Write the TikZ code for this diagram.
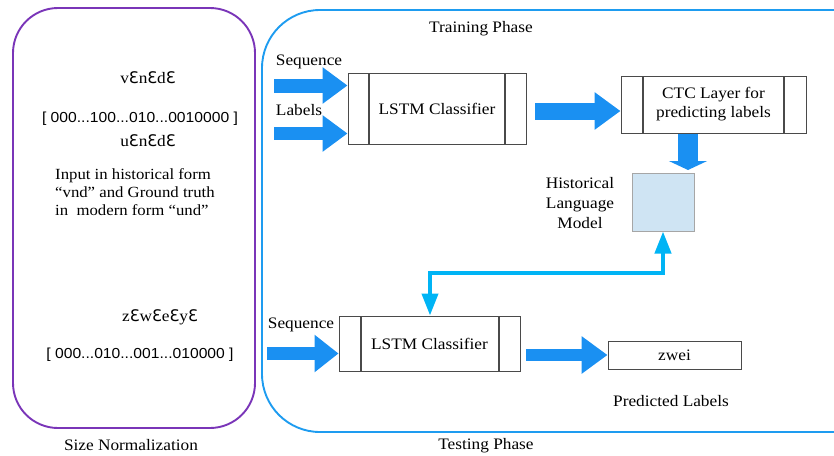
\documentclass[tikz,border=0pt]{standalone}
\usepackage{fontspec}
\setmainfont{Liberation Serif}[FakeStretch=1.08]
\newfontfamily\bsans{Liberation Sans}[FakeStretch=1.08]
\newfontfamily\epsfont{DejaVu Sans}
\newcommand{\Eps}{{\epsfont Ɛ}}
\usetikzlibrary{arrows.meta}
\definecolor{purp}{HTML}{7A35B8}
\definecolor{frameblue}{HTML}{1E9CF0}
\definecolor{arrowblue}{HTML}{1A90F2}
\definecolor{cyanconn}{HTML}{00B4F5}
\definecolor{lmfill}{HTML}{CFE4F3}
\definecolor{boxline}{HTML}{4A4A4A}
\tikzset{
  txt/.style={inner sep=0pt, font=\fontsize{16}{19}\selectfont},
  sanstxt/.style={inner sep=0pt, font=\bsans\fontsize{14.5}{17}\selectfont},
  fatarrow/.style n args={3}{draw=arrowblue, line width=#1, line cap=butt,
     -{Triangle[length=#3,width=#2]}, arrowblue},
  barbox/.style n args={2}{draw=boxline, line width=1pt, rectangle, inner sep=0pt,
     path picture={
       \draw[boxline, line width=1.1pt]
         ([xshift=#1]path picture bounding box.north west) -- ([xshift=#1]path picture bounding box.south west)
         ([xshift=-#2]path picture bounding box.north east) -- ([xshift=-#2]path picture bounding box.south east);
     }},
  plainbox/.style={draw=boxline, line width=1pt, rectangle, inner sep=0pt},
  conn/.style={draw=cyanconn, line width=4pt,
     {Triangle[length=22pt,width=16pt]}-{Triangle[length=22pt,width=16pt]}},
}
\begin{document}
\begin{tikzpicture}[x=1pt, y=-1pt]
\clip (0,0) rectangle (834,455);
\useasboundingbox (0,0) rectangle (834,455);

% frames
\draw[purp, line width=1.9pt, rounded corners=45pt] (13,8) rectangle (255,428);
\draw[frameblue, line width=1.9pt, rounded corners=58pt] (262,10) rectangle (900,432);

% left texts
\node[txt] (v1) at (148,78) {v\Eps n\Eps d\Eps};
\node[sanstxt] (b1) at (140,119) {[ 000...100...010...0010000 ]};
\node[txt] (u1) at (148,141) {u\Eps n\Eps d\Eps};
\node[txt, anchor=west, align=left, font=\fontsize{15.5}{18}\selectfont] (desc) at (55,192)
  {Input in historical form\\“vnd” and Ground truth\\in\ \ modern form “und”};
\node[txt] (z1) at (160,317) {z\Eps w\Eps e\Eps y\Eps};
\node[sanstxt] (b2) at (140,355) {[ 000...010...001...010000 ]};
\node[txt] (sizen) at (131,445) {Size Normalization};

% titles
\node[txt] (train) at (481,29) {Training Phase};
\node[txt] (test) at (486,446) {Testing Phase};

% training boxes
\node[barbox={21pt}{21pt}, minimum width=178pt, minimum height=71pt, txt] (lstm1) at (437,108.5) {LSTM Classifier};
\node[barbox={22pt}{22pt}, minimum width=185pt, minimum height=57pt, txt, align=center] (ctc) at (713.5,104.5) {CTC Layer for\\predicting labels};
\node[draw=gray!70, fill=lmfill, line width=1pt, rectangle, minimum width=62pt, minimum height=58pt, inner sep=0pt] (lm) at (663,202) {};
\node[txt, align=center, font=\fontsize{16}{20}\selectfont] (lmtxt) at (580,203) {Historical\\Language\\Model};

\node[txt] (seq1) at (309,62) {Sequence};
\node[txt] (lab1) at (299,110) {Labels};

% testing boxes
\node[barbox={22pt}{21pt}, minimum width=181pt, minimum height=55pt, txt] (lstm2) at (429.5,343.5) {LSTM Classifier};
\node[plainbox, minimum width=133pt, minimum height=28pt, txt] (zwei) at (674.5,355) {zwei};
\node[txt] (seq2) at (301,325) {Sequence};
\node[txt] (pred) at (671,401) {Predicted Labels};

% fat arrows
\coordinate (a1) at (274,85.5);
\coordinate (a2) at (274,133.5);
\coordinate (a3) at (535,111);
\coordinate (a4) at (267,353.5);
\coordinate (a5) at (526,355);
\coordinate (d1) at (688,134);
\coordinate (d2) at (688,170);
\draw[fatarrow={14pt}{35pt}{25pt}] (a1) -- (lstm1.west |- a1);
\draw[fatarrow={13pt}{35pt}{25pt}] (a2) -- (lstm1.west |- a2);
\draw[fatarrow={17pt}{36pt}{26pt}] (a3) -- (ctc.west |- a3);
\draw[fatarrow={20pt}{38pt}{9pt}] (d1) -- (d2);
\draw[fatarrow={13pt}{36pt}{24pt}] (a4) -- (lstm2.west |- a4);
\draw[fatarrow={12pt}{36pt}{26pt}] (a5) -- (zwei.west |- a5);

% cyan connector
\coordinate (cb) at (430,273);
\draw[conn] (lm.south) -- (lm.south |- cb) -- (cb) -- (cb |- lstm2.north);
\end{tikzpicture}
\end{document}
